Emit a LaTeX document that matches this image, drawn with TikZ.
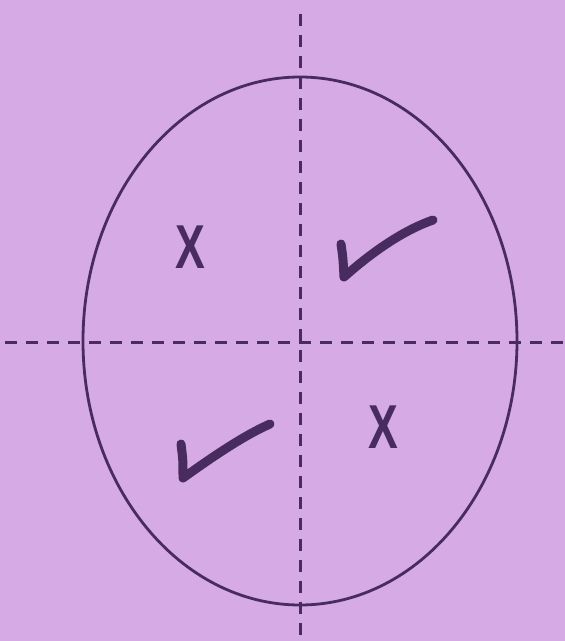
\documentclass[tikz,border=0pt]{standalone}
\usepackage{fontspec}
\setsansfont{Liberation Sans}
\usetikzlibrary{shapes.geometric}
\definecolor{bgpurple}{RGB}{214,170,228}
\definecolor{ink}{RGB}{72,44,96}
\begin{document}
\begin{tikzpicture}[x=1pt,y=-1pt,
  axis/.style={draw=ink,line width=3pt,dash pattern=on 12pt off 9pt},
  outline/.style={draw=ink,line width=2.8pt},
  crossmark/.style={text=ink,font=\sffamily\bfseries\fontsize{62}{62}\selectfont,xscale=0.72,inner sep=0pt},
  tick/.style={draw=ink,line width=9pt,line cap=round,line join=round}]
\fill[bgpurple] (0,0) rectangle (565,641);
\useasboundingbox (0,0) rectangle (565,641);
\coordinate (vtop) at (300,14);
\coordinate (vbot) at (300,641);
\coordinate (hl) at (5,342);
\coordinate (hr) at (565,342);
\draw[axis] (vtop) -- (vbot);
\draw[axis] (hl) -- (hr);
\node[ellipse,outline,inner sep=0pt,minimum width=434pt,minimum height=528pt] (oval) at (300,341) {};
\node[crossmark] (x1) at (190,247) {X};
\node[crossmark] (x2) at (383,427) {X};
\coordinate (c1a) at (341,244);
\coordinate (c1b) at (344,277);
\coordinate (c1c) at (433,220);
\draw[tick] (c1a) .. controls (343,258) .. (c1b) .. controls (380,245) and (410,228) .. (c1c);
\coordinate (c2a) at (181,444);
\coordinate (c2b) at (183,478);
\coordinate (c2c) at (270,424);
\draw[tick] (c2a) .. controls (183,460) .. (c2b) .. controls (215,455) and (245,435) .. (c2c);
\end{tikzpicture}
\end{document}
